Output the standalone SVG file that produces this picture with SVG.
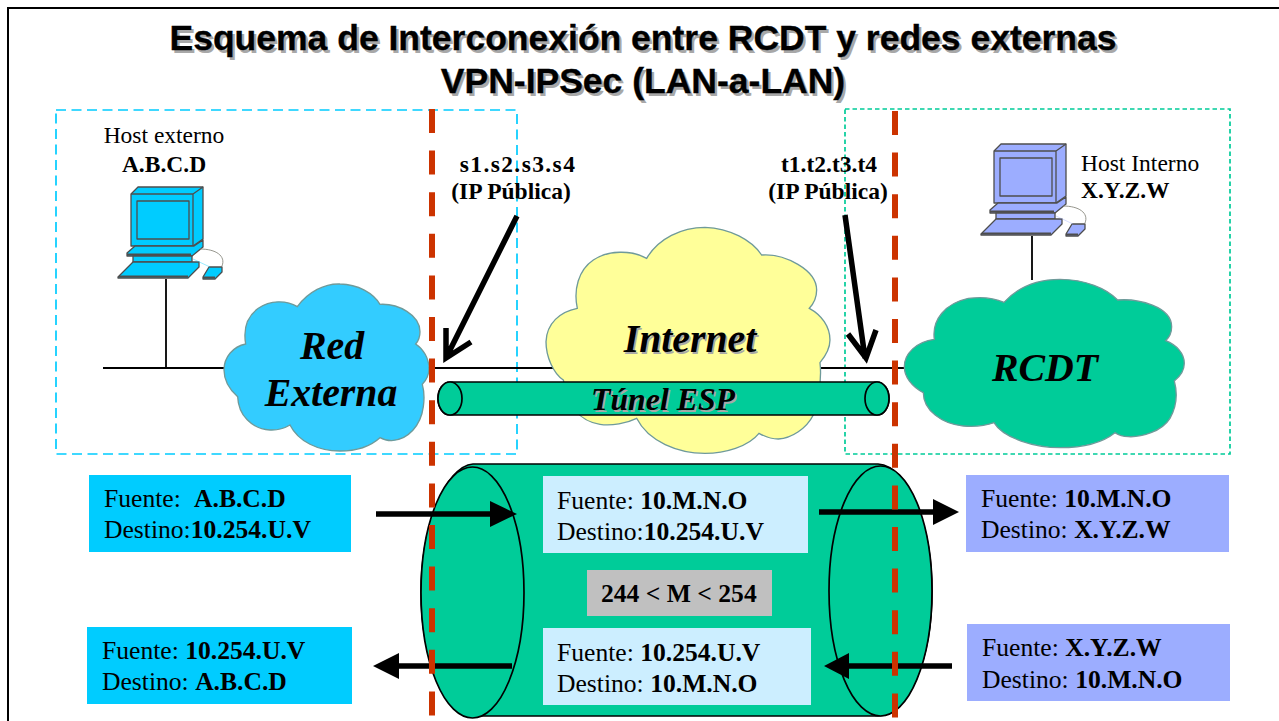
<svg xmlns="http://www.w3.org/2000/svg" width="1279" height="721" viewBox="0 0 1279 721">
<style>
text{font-family:"Liberation Serif","Times New Roman",serif;fill:#000}
.t{font-family:"Liberation Sans",Arial,sans-serif;font-weight:700;font-size:35.500px;text-anchor:middle;stroke:#000;stroke-width:.35}
text.sh{fill:#a8a8a8;stroke:none}
.l{font-size:25.600px}
.s{font-size:23.500px}
.b{font-weight:700}
.c{font-style:italic;font-weight:700;font-size:39.800px;text-anchor:middle}
.e{font-size:31.800px}
.cloud{stroke:#6f9a9a;stroke-width:4}
.cyl{fill:#00cc99;stroke:#000;stroke-width:1.7}
.red{stroke:#cc3300;stroke-width:6;stroke-dasharray:24 17.600;fill:none}
.w{fill:none;stroke:#000;stroke-width:1.8}
.ar{fill:none;stroke:#000;stroke-width:5.500}
.hd{fill:#000}
.pc{stroke:#4d4d4d;stroke-width:1.300;stroke-linejoin:round}
.pk{fill:none;stroke:#4d4d4d;stroke-width:2}
</style>
<defs>
<g id="pc">
<path class="pc" d="M131 194L138 187H203V239L193 246H131Z"/>
<path class="pc" fill="none" d="M131 194H193L203 187M193 194V246"/>
<path class="pc" d="M137 201H189V239H137Z"/>
<path class="pc" d="M135 246H194L203 240V247L192 256H127V253Z"/>
<path class="pc" d="M133 256H192V262H133Z"/>
<path class="pc" d="M118 277L133 262H199V267L188 278H118Z"/>
<path class="pk" d="M119 276.500H188M127 254.500H191"/>
<path class="pc" d="M203 277L209 267H222V272L215 279H203Z"/>
<path class="pk" d="M203 277.500H215"/>
<path d="M200 249C216 249 226 256 222 266" fill="none" stroke="#8a8a80" stroke-width=".9"/>
<path d="M193 259L210 267" fill="none" stroke="currentColor" stroke-width=".8" opacity=".5"/>
</g>
</defs>
<rect x="8" y="8" width="1290" height="740" fill="#fff" stroke="#000" stroke-width="2"/>
<g id="title">
<text class="t sh" x="645.500" y="52.500">Esquema de Interconexión entre RCDT y redes externas</text>
<text class="t sh" x="645.500" y="95.500">VPN-IPSec (LAN-a-LAN)</text>
<text class="t" x="643" y="50">Esquema de Interconexión entre RCDT y redes externas</text>
<text class="t" x="643" y="93">VPN-IPSec (LAN-a-LAN)</text>
</g>
<g id="zones">
<rect x="56" y="110" width="461" height="344" fill="none" stroke="#00ccff" stroke-width="1.700" stroke-dasharray="10 5.500"/>
<rect x="845" y="109" width="385" height="345" fill="none" stroke="#00cc99" stroke-width="1.700" stroke-dasharray="4.500 3"/>
</g>
<g id="connectors">
<path class="w" d="M103 368H905M166 279V368M1032 236V280"/>
</g>
<g id="host-externo">
<use href="#pc" fill="#00ccff" color="#00ccff"/>
<text class="s" x="164" y="143" text-anchor="middle">Host externo</text>
<text class="s b" x="164" y="172" text-anchor="middle">A.B.C.D</text>
</g>
<g id="host-interno">
<use href="#pc" x="863" y="-43" fill="#9cadff" color="#9cadff"/>
<text class="s" x="1081" y="171">Host Interno</text>
<text class="s b" x="1081" y="198">X.Y.Z.W</text>
</g>
<g id="red-externa">
<path class="cloud" fill="#33ccff" transform="translate(215 275) scale(.3333)" d="M247 95C280 50 330 25 375 27C430 28 475 55 495 88C550 85 615 120 615 170C615 185 610 198 602 207C625 222 642 250 642 280C642 300 635 315 622 328C628 350 628 375 625 395C618 450 580 495 530 497C515 497 505 494 495 488C465 515 420 528 375 528C310 528 250 500 225 450C205 462 185 466 165 465C110 462 70 420 68 365C45 345 27 315 27 285C27 245 55 215 92 207C85 165 95 125 130 100C165 75 215 75 247 95Z"/>
<text class="c" x="332" y="359">Red</text>
<text class="c" x="331" y="406">Externa</text>
</g>
<g id="internet">
<path class="cloud" fill="#ffff99" transform="translate(535 220) scale(.3333)" d="M335 115C370 55 440 22 510 22C585 25 650 60 680 105C750 100 845 150 845 210C845 235 835 252 823 265C860 285 885 320 885 360C885 385 870 410 855 428C860 470 855 520 835 585C815 625 770 655 730 657C705 657 690 650 672 640C640 680 570 700 510 700C430 700 340 665 305 595C275 610 230 618 195 613C140 605 100 570 85 480C55 460 33 410 33 365C35 310 75 275 127 265C115 210 130 150 175 120C220 90 290 90 335 115Z"/>
<text class="c sh" x="691.500" y="353.500">Internet</text>
<text class="c" x="690" y="352">Internet</text>
</g>
<g id="rcdt">
<path class="cloud" fill="#00cc99" transform="translate(895 270) scale(.3333)" d="M327 97C370 50 430 28 495 28C570 28 635 55 668 90C730 85 830 110 830 170C830 190 822 203 812 212C845 225 868 250 868 280C868 300 855 320 838 333C848 370 845 410 825 445C800 485 740 502 700 500C685 500 670 495 660 488C620 520 555 533 495 533C420 533 325 505 297 458C270 468 230 470 205 468C140 462 85 420 85 368C50 350 28 320 28 290C28 250 65 215 118 208C110 150 150 100 220 85C260 80 300 85 327 97Z"/>
<text class="c" x="1045" y="381">RCDT</text>
</g>
<g id="tunel-esp">
<path class="cyl" d="M450 382H877A12 16.500 0 0 1 877 415H450A12 16.500 0 0 1 450 382Z"/>
<ellipse class="cyl" cx="450" cy="398.500" rx="12" ry="16.500"/>
<ellipse class="cyl" cx="877" cy="398.500" rx="12" ry="16.500"/>
<text class="c e sh" x="664.500" y="411.500">Túnel ESP</text>
<text class="c e" x="663" y="410">Túnel ESP</text>
</g>
<g id="tunel-grande">
<path class="cyl" d="M473 464H878C910 466 932 530 932 591C932 655 910 716 878 716H473C445 716 421 655 421 592C421 530 445 466 473 464Z"/>
<ellipse class="cyl" cx="472.500" cy="592.500" rx="51.500" ry="125.500"/>
<ellipse class="cyl" cx="880.500" cy="591" rx="51.500" ry="125"/>
</g>
<g id="paquete-1">
<rect x="89" y="475" width="262" height="77" fill="#00ccff"/>
<text class="l" x="104" y="507">Fuente: <tspan class="b" x="194">A.B.C.D</tspan></text>
<text class="l" x="104" y="538">Destino:<tspan class="b">10.254.U.V</tspan></text>
</g>
<g id="paquete-2">
<rect x="543" y="476" width="265" height="77" fill="#cceeff"/>
<text class="l" x="557" y="509">Fuente: <tspan class="b">10.M.N.O</tspan></text>
<text class="l" x="557" y="540">Destino:<tspan class="b">10.254.U.V</tspan></text>
</g>
<g id="paquete-3">
<rect x="966" y="475" width="263" height="77" fill="#9cadff"/>
<text class="l" x="981" y="507">Fuente: <tspan class="b">10.M.N.O</tspan></text>
<text class="l" x="981" y="538">Destino: <tspan class="b">X.Y.Z.W</tspan></text>
</g>
<g id="rango">
<rect x="587" y="570" width="185" height="46" fill="#c0c0c0"/>
<text class="l b" x="601" y="602">244 &lt; M &lt; 254</text>
</g>
<g id="paquete-4">
<rect x="87" y="627" width="265" height="77" fill="#00ccff"/>
<text class="l" x="102" y="659">Fuente: <tspan class="b">10.254.U.V</tspan></text>
<text class="l" x="102" y="690">Destino: <tspan class="b">A.B.C.D</tspan></text>
</g>
<g id="paquete-5">
<rect x="543" y="628" width="268" height="77" fill="#cceeff"/>
<text class="l" x="557" y="661">Fuente: <tspan class="b">10.254.U.V</tspan></text>
<text class="l" x="557" y="692">Destino: <tspan class="b">10.M.N.O</tspan></text>
</g>
<g id="paquete-6">
<rect x="967" y="624" width="263" height="77" fill="#9cadff"/>
<text class="l" x="982" y="656">Fuente: <tspan class="b">X.Y.Z.W</tspan></text>
<text class="l" x="982" y="688">Destino: <tspan class="b">10.M.N.O</tspan></text>
</g>
<g id="flechas">
<path class="ar" d="M376 514H495M819 512H935M512 666H395M952 666H845"/>
<path class="hd" d="M490 501L517 514L490 527ZM933 499L959 512L933 525ZM399 653L373 666L399 679ZM849 653L824 666L849 679Z"/>
<path class="red" d="M432 109V720M895 111V720"/>
<path class="ar" d="M517 216L446 358M446 328V358L471 342M845 215L865 358M848 334L866 358L876 330"/>
</g>
<g id="ips">
<text class="s b" x="518" y="172" text-anchor="middle" letter-spacing="1.400">s1.s2.s3.s4</text>
<text class="s b" x="511" y="199" text-anchor="middle">(IP Pública)</text>
<text class="s b" x="829" y="172" text-anchor="middle">t1.t2.t3.t4</text>
<text class="s b" x="828" y="199" text-anchor="middle">(IP Pública)</text>
</g>
</svg>
